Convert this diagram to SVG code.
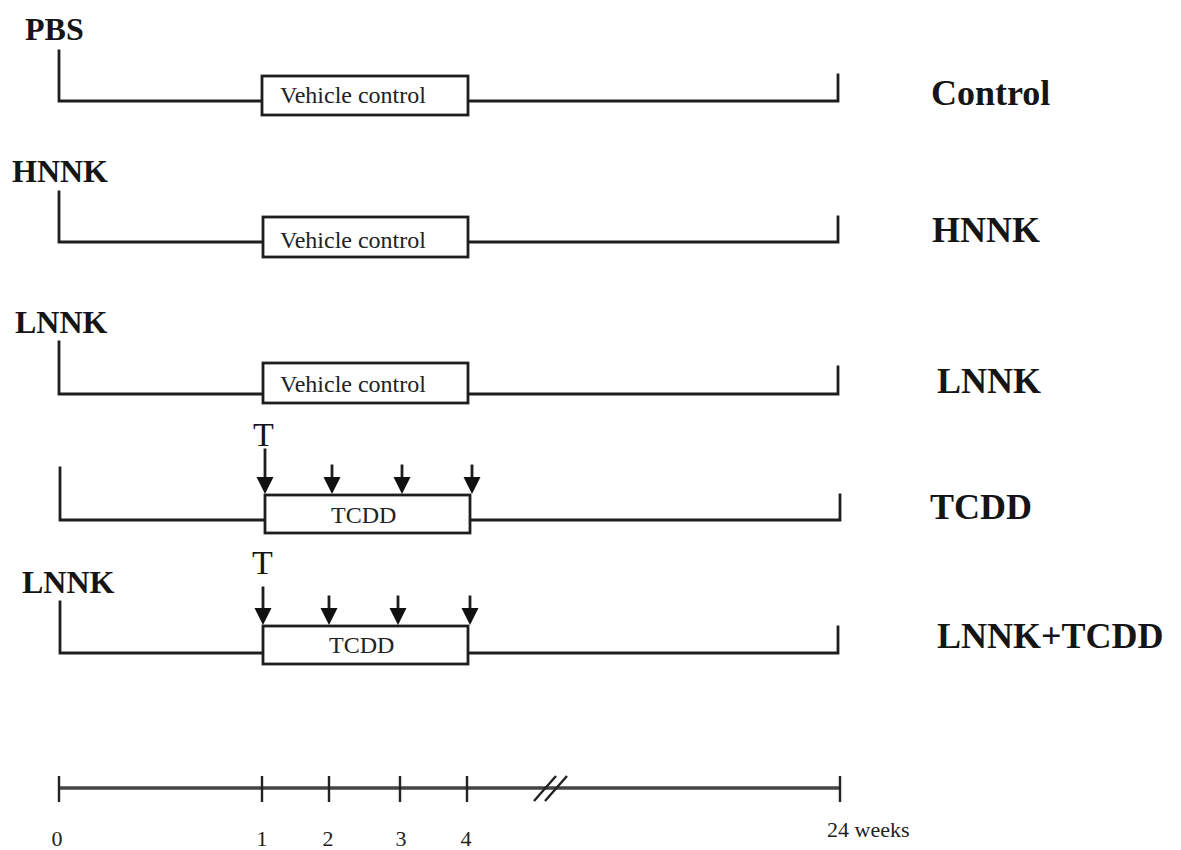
<svg xmlns="http://www.w3.org/2000/svg" width="1181" height="850" viewBox="0 0 1181 850">
<style>
.ln{stroke:#1e1e1e;stroke-width:2.8;fill:none;stroke-linecap:square}
.box{stroke:#1e1e1e;stroke-width:2.8;fill:#fff}
.lbl{font-family:"Liberation Serif",serif;font-weight:bold;font-size:32px;fill:#151515}
.grp{font-family:"Liberation Serif",serif;font-weight:bold;font-size:36px;fill:#151515}
.in{font-family:"Liberation Serif",serif;font-size:24px;fill:#222}
.t{font-family:"Liberation Serif",serif;font-size:34px;fill:#151515}
.ax{stroke:#444;stroke-width:3.4;fill:none}
.tk{stroke:#222;stroke-width:2.4;fill:none}
.num{font-family:"Liberation Serif",serif;font-size:22px;fill:#222}
</style>
<defs>
<polygon id="ah" points="-8.5,-17 8.5,-17 0,0" fill="#111"/>
</defs>
<rect width="1181" height="850" fill="#fff"/>

<g id="row-control">
<text class="lbl" x="25" y="40">PBS</text>
<path class="ln" d="M59,51 V101 H262 M468,101 H838 V75"/>
<rect class="box" x="262" y="76" width="206" height="39"/>
<text class="in" x="280" y="103">Vehicle control</text>
<text class="grp" x="931" y="105">Control</text>
</g>

<g id="row-hnnk">
<text class="lbl" x="12" y="182">HNNK</text>
<path class="ln" d="M59,192 V242 H263 M468,242 H838 V217"/>
<rect class="box" x="263" y="217" width="205" height="40"/>
<text class="in" x="280" y="248">Vehicle control</text>
<text class="grp" x="932" y="242">HNNK</text>
</g>

<g id="row-lnnk">
<text class="lbl" x="15" y="333">LNNK</text>
<path class="ln" d="M59,342 V394 H263 M468,394 H838 V367"/>
<rect class="box" x="263" y="363" width="205" height="40"/>
<text class="in" x="280" y="392">Vehicle control</text>
<text class="grp" x="937" y="393">LNNK</text>
</g>

<g id="row-tcdd">
<path class="ln" d="M60,468 V520 H265 M470,520 H840 V495"/>
<rect class="box" x="265" y="495" width="205" height="38"/>
<text class="in" x="331" y="523">TCDD</text>
<text class="t" x="253" y="446">T</text>
<g class="ln">
<path d="M265,450 V478 M332,466 V478 M402,466 V478 M472,466 V478"/>
</g>
<use href="#ah" x="265" y="494"/>
<use href="#ah" x="332" y="494"/>
<use href="#ah" x="402" y="494"/>
<use href="#ah" x="472" y="494"/>
<text class="grp" x="930" y="519">TCDD</text>
</g>

<g id="row-lnnk-tcdd">
<text class="lbl" x="22" y="593">LNNK</text>
<path class="ln" d="M60,602 V653 H263 M468,653 H838 V627"/>
<rect class="box" x="263" y="626" width="205" height="38"/>
<text class="in" x="329" y="653">TCDD</text>
<text class="t" x="252" y="574">T</text>
<g class="ln">
<path d="M263,588 V610 M329,597 V610 M398,597 V610 M470,597 V610"/>
</g>
<use href="#ah" x="263" y="625"/>
<use href="#ah" x="329" y="625"/>
<use href="#ah" x="398" y="625"/>
<use href="#ah" x="470" y="625"/>
<text class="grp" x="937" y="648">LNNK+TCDD</text>
</g>

<g id="axis">
<path class="ax" d="M59,788 H840"/>
<path class="tk" d="M59,776 V802 M262,776 V802 M329,776 V802 M400,776 V802 M467,776 V802 M840,776 V802"/>
<path class="tk" d="M534,801 L556,776 M545,801 L567,776"/>
<text class="num" x="57" y="846" text-anchor="middle">0</text>
<text class="num" x="262" y="846" text-anchor="middle">1</text>
<text class="num" x="328" y="846" text-anchor="middle">2</text>
<text class="num" x="401" y="846" text-anchor="middle">3</text>
<text class="num" x="466" y="846" text-anchor="middle">4</text>
<text class="num" x="827" y="837">24 weeks</text>
</g>
</svg>
